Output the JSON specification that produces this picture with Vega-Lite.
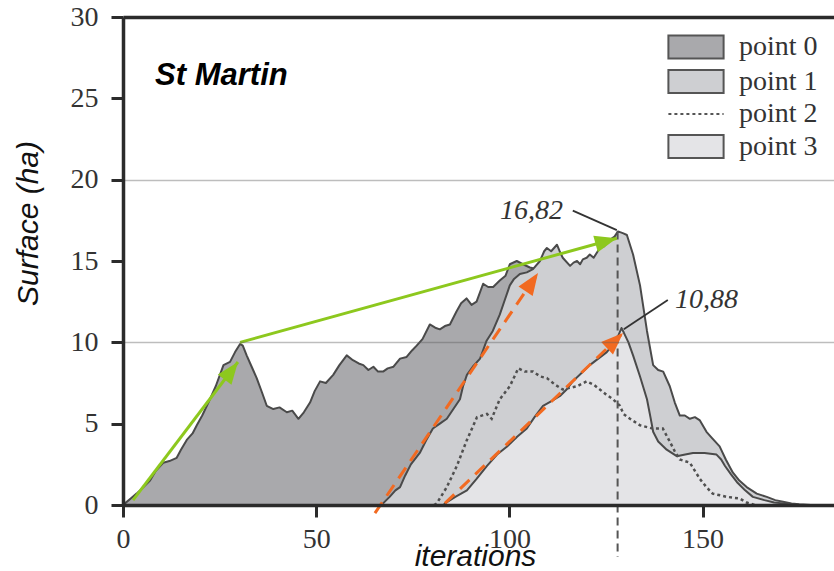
{
  "$schema": "https://vega.github.io/schema/vega-lite/v6.json",
  "width": 711,
  "height": 488,
  "autosize": {"type": "none"},
  "padding": {"left": 123, "top": 17, "right": 0, "bottom": 66},
  "background": "white",
  "config": {"view": {"stroke": null}},
  "datasets": {
    "curves": [
      {"series":"point 0","it":0,"surf":0},{"series":"point 0","it":0.5,"surf":0.1},{"series":"point 0","it":2,"surf":0.4},{"series":"point 0","it":3.5,"surf":0.7},{"series":"point 0","it":5.3,"surf":1.1},{"series":"point 0","it":7,"surf":1.5},{"series":"point 0","it":8.5,"surf":2.1},{"series":"point 0","it":10.4,"surf":2.6},{"series":"point 0","it":12,"surf":2.7},{"series":"point 0","it":13.9,"surf":2.9},{"series":"point 0","it":15,"surf":3.4},{"series":"point 0","it":16.5,"surf":4.0},{"series":"point 0","it":18,"surf":4.4},{"series":"point 0","it":19.1,"surf":4.9},{"series":"point 0","it":20.5,"surf":5.5},{"series":"point 0","it":22.5,"surf":6.5},{"series":"point 0","it":24,"surf":7.3},{"series":"point 0","it":26,"surf":8.6},{"series":"point 0","it":27.7,"surf":8.8},{"series":"point 0","it":29,"surf":9.4},{"series":"point 0","it":30.3,"surf":9.9},{"series":"point 0","it":31,"surf":9.8},{"series":"point 0","it":32,"surf":9.2},{"series":"point 0","it":33.3,"surf":8.5},{"series":"point 0","it":34.6,"surf":7.8},{"series":"point 0","it":36,"surf":6.9},{"series":"point 0","it":37.2,"surf":6.1},{"series":"point 0","it":38.9,"surf":5.9},{"series":"point 0","it":40.5,"surf":6.0},{"series":"point 0","it":42.4,"surf":5.7},{"series":"point 0","it":43.8,"surf":5.8},{"series":"point 0","it":45.4,"surf":5.3},{"series":"point 0","it":46.8,"surf":5.7},{"series":"point 0","it":48.4,"surf":6.3},{"series":"point 0","it":49.6,"surf":7.0},{"series":"point 0","it":51,"surf":7.6},{"series":"point 0","it":52.5,"surf":7.5},{"series":"point 0","it":54.4,"surf":8.0},{"series":"point 0","it":56,"surf":8.6},{"series":"point 0","it":57.9,"surf":9.2},{"series":"point 0","it":59.5,"surf":8.9},{"series":"point 0","it":61,"surf":8.7},{"series":"point 0","it":62.2,"surf":8.6},{"series":"point 0","it":63.5,"surf":8.3},{"series":"point 0","it":64.8,"surf":8.5},{"series":"point 0","it":66,"surf":8.2},{"series":"point 0","it":67.3,"surf":8.2},{"series":"point 0","it":68.5,"surf":8.4},{"series":"point 0","it":70,"surf":8.5},{"series":"point 0","it":71.7,"surf":9.0},{"series":"point 0","it":73.4,"surf":9.1},{"series":"point 0","it":74.8,"surf":9.5},{"series":"point 0","it":76,"surf":9.8},{"series":"point 0","it":77.5,"surf":10.2},{"series":"point 0","it":79.4,"surf":11.1},{"series":"point 0","it":80.8,"surf":10.9},{"series":"point 0","it":82,"surf":10.8},{"series":"point 0","it":83.3,"surf":11.0},{"series":"point 0","it":84.6,"surf":11.1},{"series":"point 0","it":86.3,"surf":11.9},{"series":"point 0","it":87.5,"surf":12.4},{"series":"point 0","it":88.9,"surf":12.7},{"series":"point 0","it":90.2,"surf":12.3},{"series":"point 0","it":91.5,"surf":12.5},{"series":"point 0","it":93.2,"surf":13.6},{"series":"point 0","it":94.5,"surf":13.4},{"series":"point 0","it":95.8,"surf":13.4},{"series":"point 0","it":97.5,"surf":13.8},{"series":"point 0","it":99,"surf":14.1},{"series":"point 0","it":100.1,"surf":14.8},{"series":"point 0","it":101.9,"surf":15.0},{"series":"point 0","it":103.5,"surf":14.8},{"series":"point 0","it":105.3,"surf":14.6},{"series":"point 0","it":107.1,"surf":14.5},{"series":"point 0","it":108,"surf":14.7},{"series":"point 0","it":108.2,"surf":0},
      {"series":"point 1","it":67,"surf":0},{"series":"point 1","it":67.3,"surf":0.1},{"series":"point 1","it":69,"surf":0.5},{"series":"point 1","it":70.5,"surf":0.9},{"series":"point 1","it":71.7,"surf":1.1},{"series":"point 1","it":73,"surf":1.8},{"series":"point 1","it":74.5,"surf":2.5},{"series":"point 1","it":76.8,"surf":3.2},{"series":"point 1","it":78.5,"surf":4.0},{"series":"point 1","it":80.2,"surf":4.7},{"series":"point 1","it":82,"surf":5.0},{"series":"point 1","it":83.8,"surf":5.3},{"series":"point 1","it":85.5,"surf":5.9},{"series":"point 1","it":87.2,"surf":6.5},{"series":"point 1","it":88,"surf":7.3},{"series":"point 1","it":89,"surf":8.0},{"series":"point 1","it":90.5,"surf":8.5},{"series":"point 1","it":92.4,"surf":9.0},{"series":"point 1","it":94.1,"surf":10.1},{"series":"point 1","it":95.7,"surf":10.7},{"series":"point 1","it":97.5,"surf":11.7},{"series":"point 1","it":98.8,"surf":12.6},{"series":"point 1","it":100.1,"surf":13.5},{"series":"point 1","it":101.2,"surf":13.9},{"series":"point 1","it":102.7,"surf":14.2},{"series":"point 1","it":104.5,"surf":14.3},{"series":"point 1","it":106.1,"surf":14.5},{"series":"point 1","it":107.9,"surf":15.0},{"series":"point 1","it":109,"surf":15.6},{"series":"point 1","it":109.7,"surf":15.8},{"series":"point 1","it":110.8,"surf":15.6},{"series":"point 1","it":112.3,"surf":16.0},{"series":"point 1","it":113,"surf":15.6},{"series":"point 1","it":113.8,"surf":15.2},{"series":"point 1","it":115.7,"surf":14.7},{"series":"point 1","it":116.6,"surf":14.9},{"series":"point 1","it":117.5,"surf":15.0},{"series":"point 1","it":118.3,"surf":14.8},{"series":"point 1","it":119,"surf":15.1},{"series":"point 1","it":120,"surf":15.2},{"series":"point 1","it":120.8,"surf":15.4},{"series":"point 1","it":121.8,"surf":15.2},{"series":"point 1","it":123.4,"surf":15.8},{"series":"point 1","it":124.5,"surf":15.9},{"series":"point 1","it":126,"surf":16.3},{"series":"point 1","it":127.2,"surf":16.5},{"series":"point 1","it":128.1,"surf":16.82},{"series":"point 1","it":129.5,"surf":16.7},{"series":"point 1","it":130.4,"surf":16.6},{"series":"point 1","it":132,"surf":15.4},{"series":"point 1","it":133.8,"surf":13.5},{"series":"point 1","it":135.6,"surf":10.7},{"series":"point 1","it":137.2,"surf":8.6},{"series":"point 1","it":138.5,"surf":8.3},{"series":"point 1","it":139.8,"surf":8.2},{"series":"point 1","it":141.5,"surf":7.3},{"series":"point 1","it":142.8,"surf":6.3},{"series":"point 1","it":144.1,"surf":5.5},{"series":"point 1","it":145.4,"surf":5.5},{"series":"point 1","it":146.7,"surf":5.3},{"series":"point 1","it":148,"surf":5.4},{"series":"point 1","it":149.3,"surf":5.2},{"series":"point 1","it":151,"surf":4.5},{"series":"point 1","it":152.5,"surf":4.1},{"series":"point 1","it":154.4,"surf":3.6},{"series":"point 1","it":156,"surf":2.8},{"series":"point 1","it":157.8,"surf":2.0},{"series":"point 1","it":159.5,"surf":1.5},{"series":"point 1","it":161.4,"surf":1.1},{"series":"point 1","it":164,"surf":0.7},{"series":"point 1","it":166.6,"surf":0.5},{"series":"point 1","it":168.8,"surf":0.3},{"series":"point 1","it":170.8,"surf":0.2},{"series":"point 1","it":173,"surf":0.1},{"series":"point 1","it":175,"surf":0.05},{"series":"point 1","it":178,"surf":0},
      {"series":"point 3","it":83,"surf":0},{"series":"point 3","it":83.3,"surf":0.1},{"series":"point 3","it":86,"surf":0.5},{"series":"point 3","it":89,"surf":0.9},{"series":"point 3","it":91.5,"surf":1.6},{"series":"point 3","it":94.2,"surf":2.4},{"series":"point 3","it":96.8,"surf":3.1},{"series":"point 3","it":99.4,"surf":3.6},{"series":"point 3","it":102,"surf":4.2},{"series":"point 3","it":104.5,"surf":4.7},{"series":"point 3","it":106.5,"surf":5.4},{"series":"point 3","it":108.7,"surf":6.1},{"series":"point 3","it":111,"surf":6.4},{"series":"point 3","it":113.1,"surf":6.7},{"series":"point 3","it":114.8,"surf":7.1},{"series":"point 3","it":116.4,"surf":7.6},{"series":"point 3","it":118.6,"surf":8.1},{"series":"point 3","it":120.8,"surf":8.6},{"series":"point 3","it":123,"surf":9.0},{"series":"point 3","it":125.2,"surf":9.4},{"series":"point 3","it":126.6,"surf":9.8},{"series":"point 3","it":127.8,"surf":10.2},{"series":"point 3","it":129,"surf":10.88},{"series":"point 3","it":129.6,"surf":10.6},{"series":"point 3","it":130.8,"surf":10.0},{"series":"point 3","it":132,"surf":9.2},{"series":"point 3","it":133.8,"surf":7.9},{"series":"point 3","it":135.6,"surf":6.5},{"series":"point 3","it":136.5,"surf":5.4},{"series":"point 3","it":137.2,"surf":4.5},{"series":"point 3","it":138.5,"surf":3.9},{"series":"point 3","it":140.7,"surf":3.4},{"series":"point 3","it":143.3,"surf":3.0},{"series":"point 3","it":145.5,"surf":3.1},{"series":"point 3","it":147.5,"surf":3.2},{"series":"point 3","it":150.5,"surf":3.2},{"series":"point 3","it":153.6,"surf":3.1},{"series":"point 3","it":154.8,"surf":2.8},{"series":"point 3","it":155.8,"surf":2.4},{"series":"point 3","it":157.3,"surf":1.9},{"series":"point 3","it":158.9,"surf":1.4},{"series":"point 3","it":161,"surf":0.9},{"series":"point 3","it":163,"surf":0.5},{"series":"point 3","it":166,"surf":0.3},{"series":"point 3","it":168.5,"surf":0.15},{"series":"point 3","it":170.8,"surf":0.1},{"series":"point 3","it":174,"surf":0},
      {"series":"point 2","it":80.5,"surf":0},{"series":"point 2","it":81.2,"surf":0.1},{"series":"point 2","it":83.8,"surf":1.1},{"series":"point 2","it":86.4,"surf":2.4},{"series":"point 2","it":89,"surf":4.0},{"series":"point 2","it":91.6,"surf":5.4},{"series":"point 2","it":94.2,"surf":5.6},{"series":"point 2","it":95.4,"surf":5.3},{"series":"point 2","it":97.5,"surf":6.5},{"series":"point 2","it":100.1,"surf":7.3},{"series":"point 2","it":102.3,"surf":8.4},{"series":"point 2","it":104,"surf":8.2},{"series":"point 2","it":106.1,"surf":8.2},{"series":"point 2","it":108,"surf":7.9},{"series":"point 2","it":109.7,"surf":7.8},{"series":"point 2","it":111.8,"surf":7.4},{"series":"point 2","it":113.8,"surf":7.1},{"series":"point 2","it":115.6,"surf":7.2},{"series":"point 2","it":117.5,"surf":7.3},{"series":"point 2","it":120,"surf":7.6},{"series":"point 2","it":121.8,"surf":7.4},{"series":"point 2","it":123.4,"surf":7.1},{"series":"point 2","it":125,"surf":6.8},{"series":"point 2","it":126.8,"surf":6.5},{"series":"point 2","it":128.6,"surf":6.1},{"series":"point 2","it":129.5,"surf":5.6},{"series":"point 2","it":131.2,"surf":5.3},{"series":"point 2","it":133.8,"surf":4.9},{"series":"point 2","it":137.1,"surf":4.7},{"series":"point 2","it":139.7,"surf":4.7},{"series":"point 2","it":141.5,"surf":3.9},{"series":"point 2","it":142.8,"surf":3.3},{"series":"point 2","it":144.1,"surf":2.8},{"series":"point 2","it":146.7,"surf":2.6},{"series":"point 2","it":148,"surf":2.1},{"series":"point 2","it":149.3,"surf":1.6},{"series":"point 2","it":151,"surf":1.1},{"series":"point 2","it":152.6,"surf":0.7},{"series":"point 2","it":156.3,"surf":0.5},{"series":"point 2","it":159.6,"surf":0.4},{"series":"point 2","it":161.4,"surf":0.15},{"series":"point 2","it":163.5,"surf":0}
    ],
    "arrows": [
      {"id":"g1","it":2.6,"surf":0.3,"it2":29.75,"surf2":8.79},
      {"id":"g2","it":30.3,"surf":10.0,"it2":127.8,"surf2":16.4},
      {"id":"o1","it":65.2,"surf":-0.5,"it2":107.4,"surf2":14.26},
      {"id":"o2","it":83.3,"surf":0.1,"it2":129.4,"surf2":10.57}
    ],
    "notes": [
      {"kind":"vline","it":128,"surf":16.82,"surf2":-3.2},
      {"kind":"leader","it":116.4,"surf":18.1,"it2":127.8,"surf2":16.9},
      {"kind":"leader","it":141.0,"surf":12.6,"it2":129.6,"surf2":10.8},
      {"kind":"label","it":105.7,"surf":17.6,"label":"16,82"},
      {"kind":"label","it":151.0,"surf":12.1,"label":"10,88"},
      {"kind":"site","it":8.3,"surf":25.8,"label":"St Martin"}
    ]
  },
  "layer": [
    {
      "data": {"name": "curves"},
      "transform": [{"filter": "datum.series == 'point 0'"}],
      "mark": {"type": "area", "opacity": 1, "fillOpacity": 1, "stroke": "#4a4a4a", "strokeWidth": 2, "strokeJoin": "round"},
      "encoding": {
        "x": {"field": "it", "type": "quantitative", "scale": {"domain": [0, 184], "nice": false, "zero": false},
          "axis": {"title": "iterations", "values": [0, 50, 100, 150], "grid": false, "zindex": 1,
            "domainColor": "#2b2b2b", "domainWidth": 3.5, "tickColor": "#2b2b2b", "tickWidth": 3, "tickSize": 12,
            "labelFont": "Liberation Serif", "labelFontSize": 28, "labelColor": "#333", "labelPadding": 8, "labelFlush": false, "labelOverlap": false,
            "titleFont": "Liberation Sans", "titleFontStyle": "italic", "titleFontWeight": "normal", "titleFontSize": 30, "titleColor": "#111",
            "titleX": 352, "titleY": 60, "titleBaseline": "alphabetic", "titleAlign": "center"}},
        "y": {"field": "surf", "type": "quantitative", "stack": null, "scale": {"domain": [0, 30], "nice": false},
          "axis": {"title": "Surface (ha)", "values": [0, 5, 10, 15, 20, 25, 30], "zindex": 1, "grid": true,
            "gridColor": {"condition": {"test": "datum.value == 30", "value": "#2b2b2b"}, "value": "rgba(90,90,90,0.4)"},
            "gridOpacity": {"condition": {"test": "datum.value == 0 || datum.value % 10 != 0", "value": 0}, "value": 1},
            "gridWidth": {"condition": {"test": "datum.value == 30", "value": 3.5}, "value": 1.5},
            "domainColor": "#2b2b2b", "domainWidth": 3.5, "tickColor": "#2b2b2b", "tickWidth": 3, "tickSize": 12,
            "labelFont": "Liberation Serif", "labelFontSize": 28, "labelColor": "#333", "labelPadding": 13, "labelFlush": false, "labelOverlap": false,
            "titleFont": "Liberation Sans", "titleFontStyle": "italic", "titleFontWeight": "normal", "titleFontSize": 30, "titleColor": "#111",
            "titleX": -86, "titleY": 206, "titleAngle": -90, "titleBaseline": "alphabetic", "titleAlign": "center"}},
        "color": {"field": "series", "type": "nominal",
          "scale": {"domain": ["point 0", "point 1", "point 2", "point 3"], "range": ["#a9a9ac", "#cecfd2", "#ffffff", "#e4e4e7"]},
          "legend": {"title": null, "orient": "none", "legendX": 559, "legendY": 16, "padding": 0,
            "symbolType": "M-2.4,-1H2.4V1H-2.4Z", "symbolSize": 529, "symbolStrokeColor": "#555", "symbolStrokeWidth": 2, "symbolOpacity": 1,
            "labelFont": "Liberation Serif", "labelFontSize": 28, "labelColor": "#333", "labelOffset": 29, "rowPadding": 2.5,
            "encode": {"symbols": {"update": {
              "shape": {"signal": "datum.value === 'point 2' ? 'M-2.4,0H2.4' : 'M-2.4,-1H2.4V1H-2.4Z'"},
              "strokeDash": {"signal": "datum.value === 'point 2' ? [3,3] : [1,0]"},
              "stroke": {"value": "#555"},
              "strokeWidth": {"value": 2}}}}}}
      }
    },
    {
      "data": {"name": "curves"},
      "transform": [{"filter": "datum.series == 'point 1'"}],
      "mark": {"type": "area", "opacity": 1, "fillOpacity": 1, "stroke": "#4a4a4a", "strokeWidth": 2, "strokeJoin": "round"},
      "encoding": {
        "x": {"field": "it", "type": "quantitative"},
        "y": {"field": "surf", "type": "quantitative", "stack": null},
        "color": {"field": "series", "type": "nominal"}
      }
    },
    {
      "data": {"name": "curves"},
      "transform": [{"filter": "datum.series == 'point 3'"}],
      "mark": {"type": "area", "opacity": 1, "fillOpacity": 1, "stroke": "#4a4a4a", "strokeWidth": 2, "strokeJoin": "round"},
      "encoding": {
        "x": {"field": "it", "type": "quantitative"},
        "y": {"field": "surf", "type": "quantitative", "stack": null},
        "color": {"field": "series", "type": "nominal"}
      }
    },
    {
      "data": {"name": "curves"},
      "transform": [{"filter": "datum.series == 'point 2'"}],
      "mark": {"type": "line", "color": "#505050", "strokeDash": [3, 3], "strokeWidth": 2.5},
      "encoding": {
        "x": {"field": "it", "type": "quantitative"},
        "y": {"field": "surf", "type": "quantitative"}
      }
    },
    {
      "data": {"name": "notes"},
      "transform": [{"filter": "datum.kind == 'vline'"}],
      "mark": {"type": "rule", "color": "#555", "strokeWidth": 2, "strokeDash": [8, 5]},
      "encoding": {
        "x": {"field": "it", "type": "quantitative"},
        "y": {"field": "surf", "type": "quantitative"},
        "y2": {"field": "surf2"}
      }
    },
    {
      "data": {"name": "notes"},
      "transform": [{"filter": "datum.kind == 'leader'"}],
      "mark": {"type": "rule", "color": "#333", "strokeWidth": 1.8},
      "encoding": {
        "x": {"field": "it", "type": "quantitative"},
        "y": {"field": "surf", "type": "quantitative"},
        "x2": {"field": "it2"},
        "y2": {"field": "surf2"}
      }
    },
    {
      "data": {"name": "notes"},
      "transform": [{"filter": "datum.kind == 'label'"}],
      "mark": {"type": "text", "font": "Liberation Serif", "fontStyle": "italic", "fontSize": 28, "color": "#333", "align": "center", "baseline": "alphabetic"},
      "encoding": {
        "x": {"field": "it", "type": "quantitative"},
        "y": {"field": "surf", "type": "quantitative"},
        "text": {"field": "label"}
      }
    },
    {
      "data": {"name": "notes"},
      "transform": [{"filter": "datum.kind == 'site'"}],
      "mark": {"type": "text", "font": "Liberation Sans", "fontStyle": "italic", "fontWeight": "bold", "fontSize": 31, "color": "#000", "align": "left", "baseline": "alphabetic"},
      "encoding": {
        "x": {"field": "it", "type": "quantitative"},
        "y": {"field": "surf", "type": "quantitative"},
        "text": {"field": "label"}
      }
    },
    {
      "data": {"name": "arrows"},
      "transform": [{"filter": "datum.id == 'g1' || datum.id == 'g2'"}],
      "mark": {"type": "rule", "color": "#8dc81e", "strokeWidth": 3},
      "encoding": {
        "x": {"field": "it", "type": "quantitative"},
        "y": {"field": "surf", "type": "quantitative"},
        "x2": {"field": "it2"},
        "y2": {"field": "surf2"}
      }
    },
    {
      "data": {"name": "arrows"},
      "transform": [{"filter": "datum.id == 'o1' || datum.id == 'o2'"}],
      "mark": {"type": "rule", "color": "#f26a21", "strokeWidth": 3, "strokeDash": [13, 8]},
      "encoding": {
        "x": {"field": "it", "type": "quantitative"},
        "y": {"field": "surf", "type": "quantitative"},
        "x2": {"field": "it2"},
        "y2": {"field": "surf2"}
      }
    },
    {
      "data": {"name": "arrows"},
      "transform": [{"filter": "datum.id == 'g1'"}],
      "mark": {"type": "point", "shape": "M0,0L0.7,1.8L-0.7,1.8Z", "filled": true, "size": 600, "opacity": 1, "color": "#8dc81e", "angle": 37.2},
      "encoding": {"x": {"field": "it2", "type": "quantitative"}, "y": {"field": "surf2", "type": "quantitative"}}
    },
    {
      "data": {"name": "arrows"},
      "transform": [{"filter": "datum.id == 'g2'"}],
      "mark": {"type": "point", "shape": "M0,0L0.7,1.8L-0.7,1.8Z", "filled": true, "size": 600, "opacity": 1, "color": "#8dc81e", "angle": 74.6},
      "encoding": {"x": {"field": "it2", "type": "quantitative"}, "y": {"field": "surf2", "type": "quantitative"}}
    },
    {
      "data": {"name": "arrows"},
      "transform": [{"filter": "datum.id == 'o1'"}],
      "mark": {"type": "point", "shape": "M0,0L0.7,1.8L-0.7,1.8Z", "filled": true, "size": 600, "opacity": 1, "color": "#f26a21", "angle": 34.2},
      "encoding": {"x": {"field": "it2", "type": "quantitative"}, "y": {"field": "surf2", "type": "quantitative"}}
    },
    {
      "data": {"name": "arrows"},
      "transform": [{"filter": "datum.id == 'o2'"}],
      "mark": {"type": "point", "shape": "M0,0L0.7,1.8L-0.7,1.8Z", "filled": true, "size": 600, "opacity": 1, "color": "#f26a21", "angle": 46.3},
      "encoding": {"x": {"field": "it2", "type": "quantitative"}, "y": {"field": "surf2", "type": "quantitative"}}
    }
  ]
}
